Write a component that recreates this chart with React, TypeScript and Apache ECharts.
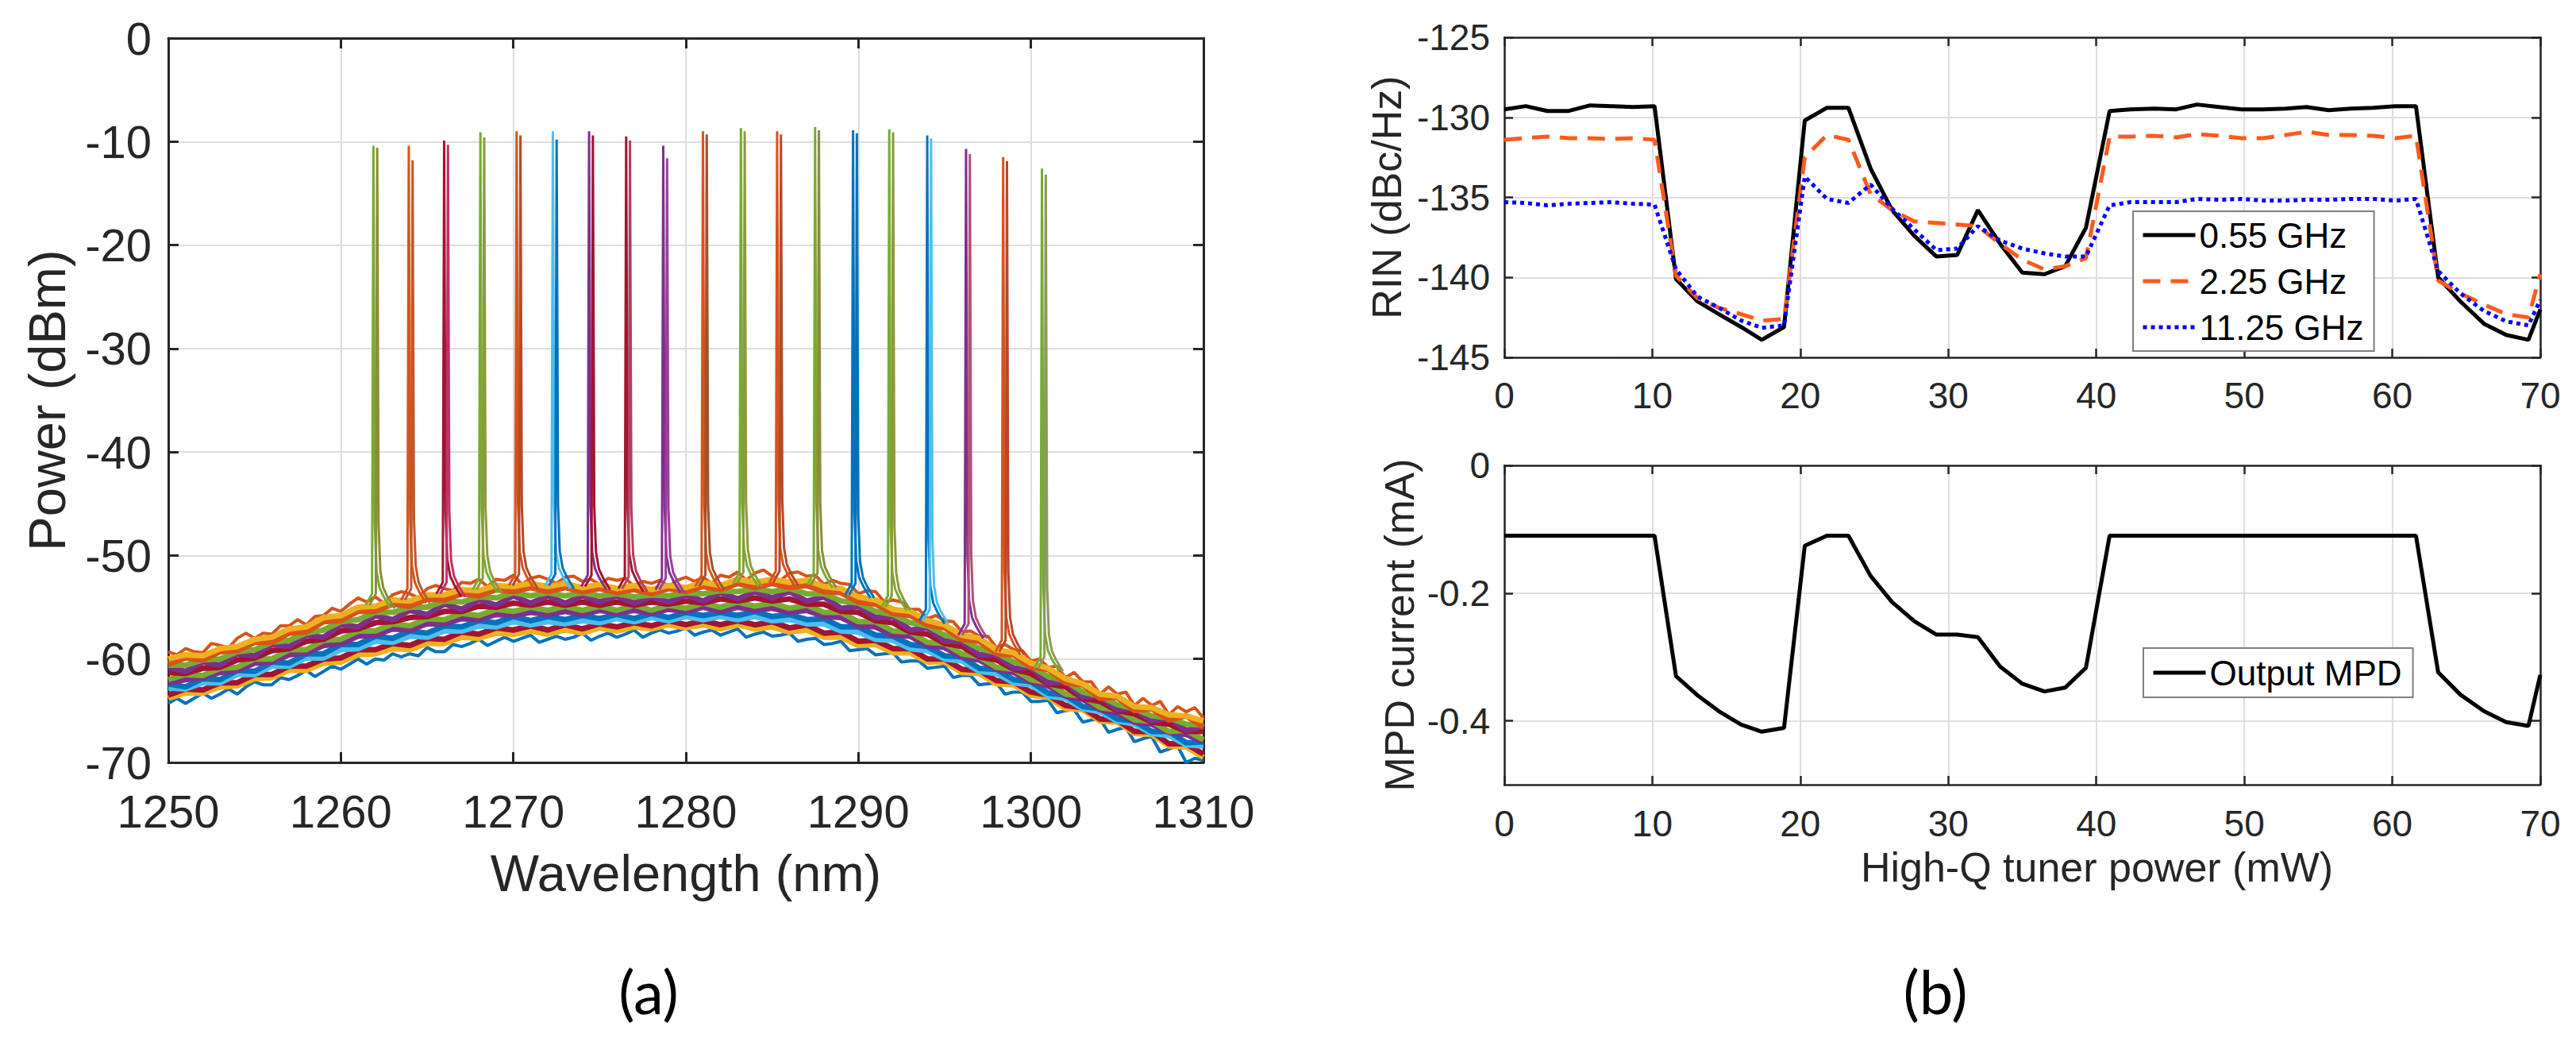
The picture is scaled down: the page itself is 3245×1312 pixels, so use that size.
import React, { useEffect, useRef } from "react";
import * as echarts from "echarts";

const FONT = "'Liberation Sans', Arial, Helvetica, sans-serif";
const INK = "#262626";
const GRID_LINE = "#dedede";

// ---------------- (a) optical spectra ----------------
const wavelengthNm = [
  1250, 1251, 1252, 1253, 1254, 1255, 1256, 1257, 1258, 1259,
  1260, 1261, 1262, 1263, 1264, 1265, 1266, 1267, 1268, 1269,
  1270, 1271, 1272, 1273, 1274, 1275, 1276, 1277, 1278, 1279,
  1280, 1281, 1282, 1283, 1284, 1285, 1286, 1287, 1288, 1289,
  1290, 1291, 1292, 1293, 1294, 1295, 1296, 1297, 1298, 1299,
  1300, 1301, 1302, 1303, 1304, 1305, 1306, 1307, 1308, 1309, 1310,
];
const wavelengthFineNm = [
  1250, 1250.5, 1251, 1251.5, 1252, 1252.5, 1253, 1253.5, 1254, 1254.5,
  1255, 1255.5, 1256, 1256.5, 1257, 1257.5, 1258, 1258.5, 1259, 1259.5,
  1260, 1260.5, 1261, 1261.5, 1262, 1262.5, 1263, 1263.5, 1264, 1264.5,
  1265, 1265.5, 1266, 1266.5, 1267, 1267.5, 1268, 1268.5, 1269, 1269.5,
  1270, 1270.5, 1271, 1271.5, 1272, 1272.5, 1273, 1273.5, 1274, 1274.5,
  1275, 1275.5, 1276, 1276.5, 1277, 1277.5, 1278, 1278.5, 1279, 1279.5,
  1280, 1280.5, 1281, 1281.5, 1282, 1282.5, 1283, 1283.5, 1284, 1284.5,
  1285, 1285.5, 1286, 1286.5, 1287, 1287.5, 1288, 1288.5, 1289, 1289.5,
  1290, 1290.5, 1291, 1291.5, 1292, 1292.5, 1293, 1293.5, 1294, 1294.5,
  1295, 1295.5, 1296, 1296.5, 1297, 1297.5, 1298, 1298.5, 1299, 1299.5,
  1300, 1300.5, 1301, 1301.5, 1302, 1302.5, 1303, 1303.5, 1304, 1304.5,
  1305, 1305.5, 1306, 1306.5, 1307, 1307.5, 1308, 1308.5, 1309, 1309.5,
  1310,
];

// noisy upper and lower fringes of the ASE floor (dBm)
const bandTopFringe = [
  -59.3, -59.6, -59.0, -59.3, -59.4, -58.5, -58.7, -58.9, -58.0, -57.5,
  -58.0, -57.5, -57.6, -56.8, -56.8, -56.2, -56.7, -55.9, -55.8, -55.1,
  -55.4, -54.7, -54.1, -54.5, -54.0, -54.6, -53.8, -53.5, -53.7, -54.1,
  -53.2, -52.9, -53.2, -53.4, -52.6, -52.7, -52.3, -53.0, -52.3, -52.4,
  -51.9, -52.8, -52.2, -52.0, -52.3, -52.7, -52.1, -52.0, -52.5, -52.3,
  -52.8, -52.2, -52.4, -52.2, -53.0, -52.5, -52.7, -52.4, -53.0, -52.4,
  -52.1, -52.5, -52.1, -52.7, -51.9, -52.1, -51.6, -52.4, -51.7, -51.4,
  -52.0, -52.4, -51.7, -51.6, -52.0, -51.9, -52.8, -52.4, -52.7, -52.8,
  -53.7, -53.4, -53.5, -54.5, -54.3, -54.5, -55.2, -55.2, -56.1, -55.8,
  -56.3, -56.4, -57.4, -57.3, -57.8, -57.8, -58.9, -58.6, -59.1, -59.2,
  -60.2, -60.0, -60.8, -60.7, -61.8, -61.3, -62.2, -62.2, -63.4, -62.7,
  -63.4, -63.2, -64.5, -63.8, -64.5, -64.1, -65.4, -64.6, -65.1, -64.7,
  -65.7,
];
const bandBottomFringe = [
  -64.3, -63.8, -64.3, -63.8, -63.3, -63.8, -63.4, -62.9, -63.4, -62.7,
  -62.2, -62.5, -62.5, -61.8, -62.0, -61.6, -61.1, -61.7, -61.2, -60.7,
  -61.0, -60.5, -60.0, -60.5, -60.0, -60.1, -59.5, -59.8, -59.5, -59.7,
  -58.9, -59.3, -59.3, -58.6, -58.8, -58.5, -58.1, -58.7, -58.3, -57.9,
  -58.3, -58.0, -57.7, -58.4, -58.1, -57.8, -58.1, -57.9, -57.5, -58.2,
  -57.8, -57.5, -57.9, -57.6, -57.2, -57.9, -57.5, -57.2, -57.5, -57.3,
  -57.0, -57.7, -57.4, -57.2, -57.7, -57.4, -57.1, -57.9, -57.6, -57.4,
  -57.8, -57.7, -57.5, -58.3, -58.1, -58.0, -58.6, -58.5, -58.3, -59.2,
  -59.1, -59.0, -59.6, -59.5, -59.4, -60.3, -60.2, -60.2, -60.9, -60.8,
  -60.7, -61.8, -61.6, -61.6, -62.5, -62.4, -62.3, -63.4, -63.2, -63.2,
  -64.1, -64.1, -64.0, -65.2, -65.0, -64.9, -66.1, -65.9, -65.8, -67.1,
  -66.8, -66.6, -68.0, -67.7, -67.5, -69.0, -68.7, -68.4, -70.0, -69.6,
  -69.8,
];

const band01 = [
  -60.0, -59.6, -59.7, -59.0, -58.8, -58.1, -57.9, -57.1, -56.9, -56.0,
  -55.8, -55.0, -54.9, -54.3, -54.4, -53.8, -53.8, -53.3, -53.4, -52.9,
  -53.0, -52.7, -53.0, -52.7, -53.1, -52.8, -53.2, -52.9, -53.3, -52.9,
  -53.1, -52.6, -52.9, -52.3, -52.6, -52.3, -52.6, -52.4, -53.0, -53.2,
  -54.0, -54.3, -55.2, -55.4, -56.3, -56.7, -57.7, -58.0, -59.1, -59.4,
  -60.4, -60.9, -61.9, -62.4, -63.4, -63.6, -64.6, -64.7, -65.4, -65.5, -66.0,
];
const band02 = [
  -60.5, -59.9, -60.1, -59.3, -59.2, -58.4, -58.4, -57.5, -57.4, -56.4,
  -56.3, -55.4, -55.4, -54.7, -54.9, -54.2, -54.3, -53.7, -53.9, -53.3,
  -53.5, -53.1, -53.5, -53.1, -53.5, -53.2, -53.6, -53.3, -53.7, -53.2,
  -53.5, -53.0, -53.3, -52.7, -53.1, -52.7, -53.1, -52.9, -53.5, -53.6,
  -54.5, -54.7, -55.6, -55.8, -56.7, -57.0, -58.1, -58.3, -59.5, -59.6,
  -60.8, -61.0, -62.3, -62.5, -63.8, -63.7, -65.0, -64.8, -65.9, -65.5, -66.6,
];
const band03 = [
  -60.6, -60.6, -60.1, -60.0, -59.3, -59.1, -58.4, -58.2, -57.5, -57.2,
  -56.4, -56.2, -55.5, -55.5, -55.0, -55.0, -54.4, -54.5, -54.0, -54.1,
  -53.6, -53.9, -53.6, -53.9, -53.6, -53.9, -53.7, -54.0, -53.8, -53.9,
  -53.6, -53.7, -53.4, -53.5, -53.2, -53.5, -53.2, -53.7, -53.7, -54.4,
  -54.6, -55.4, -55.7, -56.5, -56.8, -57.7, -58.1, -59.0, -59.4, -60.3,
  -60.7, -61.7, -62.1, -63.2, -63.6, -64.4, -64.8, -65.5, -65.7, -66.3, -66.4,
];
const band04 = [
  -60.8, -61.2, -60.3, -60.6, -59.5, -59.7, -58.6, -58.8, -57.7, -57.9,
  -56.7, -56.9, -55.8, -56.2, -55.3, -55.7, -54.7, -55.2, -54.3, -54.8,
  -53.9, -54.6, -53.9, -54.6, -53.9, -54.5, -53.9, -54.6, -54.0, -54.5,
  -53.8, -54.4, -53.6, -54.2, -53.5, -54.1, -53.5, -54.4, -54.0, -55.1,
  -54.9, -56.0, -55.9, -57.2, -57.0, -58.3, -58.3, -59.6, -59.6, -60.9,
  -60.8, -62.3, -62.2, -63.7, -63.6, -64.9, -64.8, -66.0, -65.7, -66.9, -66.5,
];
const band05 = [
  -61.3, -61.4, -60.9, -60.8, -60.1, -59.9, -59.2, -59.0, -58.3, -58.1,
  -57.3, -57.1, -56.5, -56.4, -56.0, -55.9, -55.4, -55.4, -54.9, -55.0,
  -54.6, -54.8, -54.5, -54.8, -54.5, -54.8, -54.5, -54.8, -54.5, -54.7,
  -54.4, -54.6, -54.2, -54.4, -54.1, -54.4, -54.2, -54.7, -54.7, -55.4,
  -55.5, -56.3, -56.5, -57.4, -57.6, -58.5, -58.8, -59.8, -60.1, -61.0,
  -61.4, -62.4, -62.7, -63.8, -64.1, -65.0, -65.3, -66.1, -66.3, -67.0, -67.0,
];
const band06 = [
  -62.0, -61.5, -61.6, -60.9, -60.8, -60.0, -60.0, -59.1, -59.1, -58.2,
  -58.1, -57.3, -57.3, -56.6, -56.8, -56.1, -56.2, -55.6, -55.8, -55.2,
  -55.4, -55.0, -55.3, -54.9, -55.3, -54.9, -55.3, -54.8, -55.3, -54.8,
  -55.1, -54.6, -55.0, -54.5, -54.9, -54.6, -55.1, -54.8, -55.5, -55.5,
  -56.4, -56.4, -57.3, -57.4, -58.4, -58.5, -59.5, -59.8, -60.8, -61.0,
  -62.0, -62.3, -63.4, -63.6, -64.7, -64.9, -65.9, -66.0, -67.0, -66.9, -67.8,
];
const band07 = [
  -62.3, -62.0, -61.8, -61.3, -61.1, -60.4, -60.3, -59.6, -59.4, -58.7,
  -58.5, -57.8, -57.7, -57.1, -57.2, -56.6, -56.6, -56.1, -56.2, -55.7,
  -55.8, -55.5, -55.7, -55.4, -55.7, -55.3, -55.6, -55.3, -55.6, -55.2,
  -55.4, -55.0, -55.4, -55.0, -55.3, -55.1, -55.5, -55.3, -55.9, -56.0,
  -56.8, -56.9, -57.7, -57.8, -58.7, -58.9, -59.8, -60.1, -61.0, -61.3,
  -62.2, -62.6, -63.6, -63.9, -64.9, -65.2, -66.1, -66.3, -67.1, -67.3, -68.0,
];
const band08 = [
  -62.4, -62.7, -61.9, -62.0, -61.1, -61.2, -60.3, -60.4, -59.5, -59.5,
  -58.6, -58.6, -57.8, -58.0, -57.3, -57.5, -56.8, -56.9, -56.3, -56.5,
  -55.9, -56.3, -55.9, -56.2, -55.8, -56.1, -55.7, -56.1, -55.6, -56.0,
  -55.5, -55.8, -55.5, -55.8, -55.4, -55.9, -55.7, -56.2, -56.1, -56.9,
  -56.9, -57.7, -57.8, -58.6, -58.8, -59.7, -59.8, -60.9, -61.0, -62.0,
  -62.2, -63.3, -63.5, -64.6, -64.8, -65.8, -66.0, -67.0, -67.0, -68.1, -68.0,
];
const band09 = [
  -62.8, -62.9, -62.3, -62.3, -61.5, -61.5, -60.7, -60.7, -59.9, -59.9,
  -59.1, -59.0, -58.3, -58.4, -57.8, -57.9, -57.3, -57.3, -56.8, -56.9,
  -56.4, -56.7, -56.4, -56.6, -56.3, -56.5, -56.1, -56.4, -56.0, -56.3,
  -55.9, -56.2, -55.9, -56.2, -55.9, -56.3, -56.2, -56.6, -56.6, -57.3,
  -57.4, -58.1, -58.2, -59.0, -59.2, -60.0, -60.2, -61.2, -61.4, -62.3,
  -62.5, -63.6, -63.8, -64.8, -65.1, -66.0, -66.3, -67.2, -67.4, -68.3, -68.4,
];
const band10 = [
  -63.5, -62.9, -63.0, -62.3, -62.3, -61.5, -61.5, -60.7, -60.7, -60.0,
  -59.9, -59.1, -59.1, -58.5, -58.7, -58.0, -58.1, -57.4, -57.6, -57.0,
  -57.2, -56.8, -57.2, -56.7, -57.1, -56.6, -56.9, -56.5, -56.8, -56.3,
  -56.7, -56.3, -56.7, -56.3, -56.7, -56.4, -57.0, -56.7, -57.5, -57.4,
  -58.3, -58.2, -59.0, -59.0, -60.0, -60.0, -61.0, -61.1, -62.1, -62.2,
  -63.2, -63.5, -64.5, -64.7, -65.8, -65.9, -67.0, -67.0, -68.2, -68.2, -69.2,
];
const band11 = [
  -63.8, -63.3, -63.3, -62.7, -62.6, -61.9, -61.8, -61.1, -61.1, -60.4,
  -60.3, -59.6, -59.5, -59.0, -59.1, -58.5, -58.5, -57.9, -58.0, -57.5,
  -57.6, -57.3, -57.6, -57.2, -57.5, -57.0, -57.3, -56.9, -57.1, -56.7,
  -57.0, -56.7, -57.1, -56.7, -57.1, -56.9, -57.4, -57.2, -57.9, -57.9,
  -58.7, -58.6, -59.4, -59.4, -60.3, -60.3, -61.3, -61.4, -62.4, -62.5,
  -63.5, -63.7, -64.8, -64.9, -66.0, -66.1, -67.2, -67.3, -68.4, -68.5, -69.5,
];
const bandTraces = [band11, band10, band09, band08, band07, band06, band05, band04, band03, band02, band01];
const bandColors = [
  "#EDB120", "#A2142F", "#4DBEEE", "#0072BD", "#7E2F8E", "#77AC30",
  "#A2142F", "#7E2F8E", "#77AC30", "#D95319", "#EDB120",
];

// lasing lines (each one recorded twice, a fraction of a nm apart)
const peakWavelengthNm = [
  1262.0, 1264.05, 1266.1, 1268.2, 1270.3, 1272.4, 1274.5, 1276.65, 1278.8, 1281.1,
  1283.3, 1285.4, 1287.6, 1289.8, 1291.9, 1294.1, 1296.35, 1298.5, 1300.75,
];
const peakPowerDbm = [
  -10.4, -10.4, -9.9, -9.1, -9.0, -9.0, -9.0, -9.5, -10.4, -9.0,
  -8.7, -9.0, -8.6, -8.9, -8.8, -9.4, -10.7, -11.5, -12.6,
];
const peakTwinPowerDbm = [
  -10.6, -11.8, -10.3, -9.6, -9.4, -9.8, -9.4, -9.9, -11.6, -9.3,
  -9.0, -9.3, -8.9, -9.2, -9.1, -9.7, -11.2, -11.9, -13.2,
];
const peakFootDbm = [
  -54.5, -54.0, -53.4, -53.0, -52.6, -52.6, -52.7, -52.9, -53.0, -52.7,
  -52.4, -52.3, -52.5, -53.5, -54.7, -56.0, -57.4, -59.0, -60.6,
];
const peakColors = [
  "#77AC30", "#D95319", "#A2142F", "#77AC30", "#D95319", "#4DBEEE", "#7E2F8E", "#A2142F", "#7E2F8E", "#D95319",
  "#77AC30", "#D95319", "#77AC30", "#0072BD", "#77AC30", "#0072BD", "#7E2F8E", "#D95319", "#77AC30",
];
const peakTwinColors = [
  "#8C8C3A", "#C0582C", "#C0306A", "#8C9A3A", "#B5492A", "#0072BD", "#A2142F", "#B04060", "#9E3C9E", "#A0522D",
  "#8C9A3A", "#B5492A", "#8C8C3A", "#0072BD", "#8C9A3A", "#4DBEEE", "#B0507A", "#B5492A", "#8C9A5A",
];
const twinSeparationNm = [-0.11, 0.11];
// measured line shape around each lasing line (offset from line centre, rise above the foot)
const lineShapeOffsetNm = [-0.45, -0.08, 0, 0.08, 0.18, 0.35, 0.6, 1.0];
const lineShapeRiseDb = [-0.3, 0.8, 0, 7.5, 3.0, 1.4, 0.5, -0.6];

// ---------------- (b) RIN and MPD ----------------
const tunerPowerMw = [
  0, 1.45, 2.9, 4.35, 5.8, 7.25, 8.7, 10.15, 11.6, 13.05,
  14.5, 16.0, 17.4, 18.9, 20.3, 21.8, 23.25, 24.75, 26.2, 27.7,
  29.2, 30.6, 32.0, 33.5, 35.0, 36.5, 37.9, 39.3, 40.9, 42.3,
  43.9, 45.4, 46.8, 48.3, 49.8, 51.3, 52.8, 54.2, 55.7, 57.2,
  58.7, 60.2, 61.6, 63.1, 64.6, 66.2, 67.7, 69.2, 70,
];
const rin055 = [
  -129.5, -129.3, -129.6, -129.6, -129.25, -129.3, -129.35, -129.3, -140.1, -141.5,
  -142.3, -143.1, -143.9, -143.1, -130.2, -129.4, -129.4, -133.2, -135.8, -137.4,
  -138.7, -138.6, -135.8, -137.9, -139.7, -139.8, -139.3, -136.9, -129.6, -129.5,
  -129.45, -129.5, -129.2, -129.35, -129.5, -129.5, -129.45, -129.35, -129.55, -129.45,
  -129.4, -129.3, -129.3, -140.0, -141.5, -142.9, -143.6, -143.9, -142.0,
];
const rin225 = [
  -131.4, -131.3, -131.2, -131.3, -131.3, -131.35, -131.3, -131.4, -139.9, -141.3,
  -141.9, -142.3, -142.7, -142.6, -132.5, -131.1, -131.4, -134.8, -135.8, -136.5,
  -136.6, -136.7, -136.8, -137.9, -138.9, -139.5, -139.3, -138.8, -131.2, -131.2,
  -131.15, -131.25, -131.05, -131.15, -131.3, -131.3, -131.1, -130.9, -131.1, -131.1,
  -131.15, -131.3, -131.15, -140.2, -141.0, -141.7, -142.3, -142.5, -139.8,
];
const rin1125 = [
  -135.3, -135.35, -135.5, -135.4, -135.35, -135.3, -135.4, -135.45, -139.5, -141.2,
  -141.9, -142.7, -143.15, -143.0, -133.7, -135.1, -135.35, -134.2, -135.7, -137.0,
  -138.3, -138.2, -136.8, -137.7, -138.2, -138.5, -138.7, -138.7, -135.5, -135.3,
  -135.3, -135.3, -135.1, -135.15, -135.1, -135.2, -135.2, -135.15, -135.15, -135.1,
  -135.1, -135.2, -135.1, -139.6, -141.0, -142.1, -142.75, -143.0, -141.4,
];
const mpdCurrentMa = [
  -0.11, -0.11, -0.11, -0.11, -0.11, -0.11, -0.11, -0.11, -0.33, -0.36,
  -0.385, -0.406, -0.417, -0.411, -0.126, -0.11, -0.11, -0.173, -0.214, -0.244,
  -0.265, -0.265, -0.269, -0.315, -0.342, -0.354, -0.348, -0.317, -0.11, -0.11,
  -0.11, -0.11, -0.11, -0.11, -0.11, -0.11, -0.11, -0.11, -0.11, -0.11,
  -0.11, -0.11, -0.11, -0.324, -0.359, -0.385, -0.402, -0.408, -0.328,
];

const mpdTicks = [-0.4, -0.2, 0];
const plainNumber = (v: number) => String(v);

function boxAxis(gridIndex: number, position: string, extra: any, lw: number, tickLen: number) {
  return {
    type: "value",
    gridIndex,
    position,
    axisLine: { show: true, onZero: false, lineStyle: { color: INK, width: lw } },
    axisTick: { show: true, inside: true, length: tickLen, lineStyle: { color: INK, width: lw } },
    axisLabel: { show: false },
    splitLine: { show: false },
    ...extra,
  };
}

function mainAxis(gridIndex: number, position: string, extra: any, lw: number, tickLen: number, fontSize: number, margin: number) {
  return {
    type: "value",
    gridIndex,
    position,
    axisLine: { show: true, onZero: false, lineStyle: { color: INK, width: lw } },
    axisTick: { show: true, inside: true, length: tickLen, lineStyle: { color: INK, width: lw } },
    axisLabel: { show: true, margin, fontSize, color: INK, fontFamily: FONT, formatter: plainNumber },
    splitLine: { show: true, lineStyle: { color: GRID_LINE, width: 2 } },
    ...extra,
  };
}

function buildOption() {
  const series: any[] = [];
  const fringe = (vals: number[], color: string) => ({
    type: "line",
    xAxisIndex: 0,
    yAxisIndex: 0,
    silent: true,
    symbol: "none",
    lineStyle: { width: 4, color },
    data: wavelengthFineNm.map((w, i) => [w, vals[i]]),
  });
  series.push(fringe(bandTopFringe, "#D95319"));
  series.push(fringe(bandBottomFringe, "#0072BD"));
  bandTraces.forEach((trace, k) => {
    series.push({
      type: "line",
      xAxisIndex: 0,
      yAxisIndex: 0,
      silent: true,
      symbol: "none",
      lineStyle: { width: 7, color: bandColors[k] },
      data: wavelengthNm.map((w, i) => [w, trace[i]]),
    });
  });
  peakWavelengthNm.forEach((wl, k) => {
    twinSeparationNm.forEach((sep, t) => {
      const top = t === 0 ? peakPowerDbm[k] : peakTwinPowerDbm[k];
      series.push({
        type: "line",
        xAxisIndex: 0,
        yAxisIndex: 0,
        silent: true,
        symbol: "none",
        lineStyle: { width: 3, color: t === 0 ? peakColors[k] : peakTwinColors[k] },
        data: lineShapeOffsetNm.map((dx, i) =>
          i === 2 ? [wl + sep, top] : [wl + sep + dx, peakFootDbm[k] + lineShapeRiseDb[i]]
        ),
      });
    });
  });
  series.push({
    name: "0.55 GHz",
    type: "line",
    xAxisIndex: 2,
    yAxisIndex: 2,
    symbol: "none",
    lineStyle: { width: 5, color: "#000000", type: "solid" },
    itemStyle: { color: "#000000" },
    data: tunerPowerMw.map((x, i) => [x, rin055[i]]),
  });
  series.push({
    name: "2.25 GHz",
    type: "line",
    xAxisIndex: 2,
    yAxisIndex: 2,
    symbol: "none",
    lineStyle: { width: 5, color: "#FF5A1A", type: [22, 13] },
    itemStyle: { color: "#FF5A1A" },
    data: tunerPowerMw.map((x, i) => [x, rin225[i]]),
  });
  series.push({
    name: "11.25 GHz",
    type: "line",
    xAxisIndex: 2,
    yAxisIndex: 2,
    symbol: "none",
    lineStyle: { width: 5, color: "#0000FF", type: [5, 5] },
    itemStyle: { color: "#0000FF" },
    data: tunerPowerMw.map((x, i) => [x, rin1125[i]]),
  });
  series.push({
    name: "Output MPD",
    type: "line",
    xAxisIndex: 4,
    yAxisIndex: 4,
    symbol: "none",
    lineStyle: { width: 5, color: "#000000" },
    itemStyle: { color: "#000000" },
    data: tunerPowerMw.map((x, i) => [x, mpdCurrentMa[i]]),
  });

  const titleStyleA = { fontSize: 65, color: INK, fontFamily: FONT };
  const titleStyleB = { fontSize: 52, color: INK, fontFamily: FONT };
  const legendCommon = {
    orient: "vertical",
    itemWidth: 66,
    itemHeight: 14,
    backgroundColor: "#ffffff",
    borderColor: "#7f7f7f",
    borderWidth: 2,
    borderRadius: 0,
    itemStyle: { opacity: 0, borderWidth: 0 },
    lineStyle: { width: 5 },
    textStyle: { fontSize: 44, color: "#000000", fontFamily: FONT },
    selectedMode: false,
  };

  const mpdAxis: any = mainAxis(2, "left", {
    min: -0.5, max: 0,
    name: "MPD current (mA)", nameLocation: "middle", nameGap: 106, nameTextStyle: titleStyleB,
  }, 2.5, 11, 46, 18);
  mpdAxis.axisTick.customValues = mpdTicks;
  mpdAxis.axisLabel.customValues = mpdTicks;
  const mpdBox: any = boxAxis(2, "right", { min: -0.5, max: 0 }, 2.5, 11);
  mpdBox.axisTick.customValues = mpdTicks;

  return {
    animation: false,
    backgroundColor: "#ffffff",
    grid: [
      { left: 212, top: 48, width: 1304, height: 912 },
      { left: 1895, top: 47, width: 1305, height: 403 },
      { left: 1895, top: 586, width: 1305, height: 402 },
    ],
    xAxis: [
      mainAxis(0, "bottom", {
        min: 1250, max: 1310, interval: 10,
        name: "Wavelength (nm)", nameLocation: "middle", nameGap: 107, nameTextStyle: titleStyleA,
      }, 3, 13, 58, 32),
      boxAxis(0, "top", { min: 1250, max: 1310, interval: 10 }, 3, 13),
      mainAxis(1, "bottom", { min: 0, max: 70, interval: 10 }, 2.5, 11, 46, 25),
      boxAxis(1, "top", { min: 0, max: 70, interval: 10 }, 2.5, 11),
      mainAxis(2, "bottom", {
        min: 0, max: 70, interval: 10,
        name: "High-Q tuner power (mW)", nameLocation: "middle", nameGap: 78,
        nameTextStyle: { ...titleStyleB, padding: [0, 0, 0, 188] },
      }, 2.5, 11, 46, 26),
      boxAxis(2, "top", { min: 0, max: 70, interval: 10 }, 2.5, 11),
    ],
    yAxis: [
      mainAxis(0, "left", {
        min: -70, max: 0, interval: 10,
        name: "Power (dBm)", nameLocation: "middle", nameGap: 120, nameTextStyle: titleStyleA,
      }, 3, 13, 58, 21),
      boxAxis(0, "right", { min: -70, max: 0, interval: 10 }, 3, 13),
      mainAxis(1, "left", {
        min: -145, max: -125, interval: 5,
        name: "RIN (dBc/Hz)", nameLocation: "middle", nameGap: 122, nameTextStyle: titleStyleB,
      }, 2.5, 11, 46, 18),
      boxAxis(1, "right", { min: -145, max: -125, interval: 5 }, 2.5, 11),
      mpdAxis,
      mpdBox,
    ],
    legend: [
      {
        ...legendCommon,
        data: ["0.55 GHz", "2.25 GHz", "11.25 GHz"],
        left: 2687,
        top: 266,
        padding: [8, 13, 8, 10],
        itemGap: 14,
      },
      {
        ...legendCommon,
        data: ["Output MPD"],
        left: 2700,
        top: 816,
        padding: [9, 14, 9, 10],
      },
    ],
    graphic: [
      {
        type: "text", x: 817, y: 1247,
        style: { text: "(a)", fontSize: 76, fontFamily: "Lato, 'Open Sans', sans-serif", fill: "#000000", align: "center", verticalAlign: "middle" },
      },
      {
        type: "text", x: 2438, y: 1247,
        style: { text: "(b)", fontSize: 76, fontFamily: "Lato, 'Open Sans', sans-serif", fill: "#000000", align: "center", verticalAlign: "middle" },
      },
    ],
    series,
  };
}

export default function App() {
  const ref = useRef<HTMLDivElement>(null);
  useEffect(() => {
    if (!ref.current) return;
    const chart = echarts.init(ref.current, null, { renderer: "svg" });
    chart.setOption(buildOption() as any);
    return () => chart.dispose();
  }, []);
  return (
    <div
      ref={ref}
      style={{ position: "absolute", left: 0, top: 0, width: 3245, height: 1312, background: "#ffffff" }}
    />
  );
}
